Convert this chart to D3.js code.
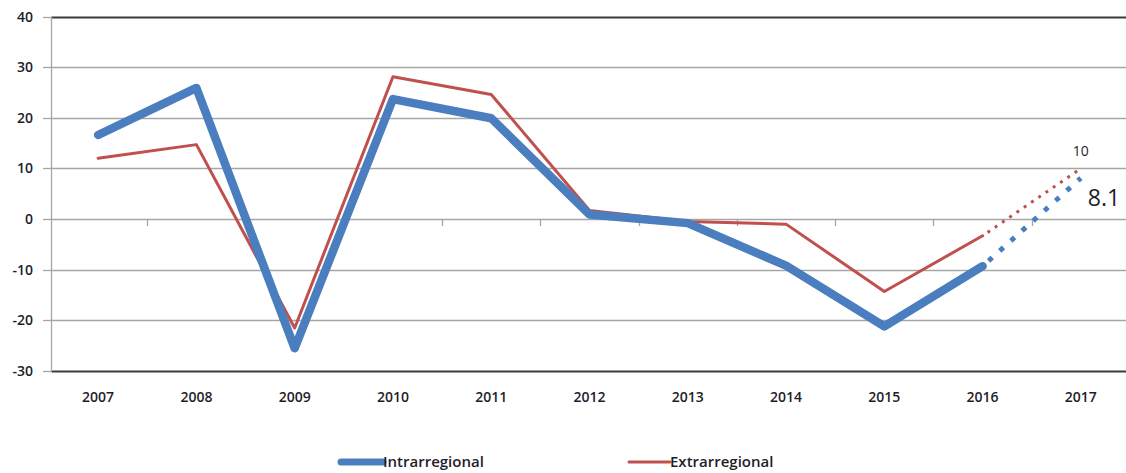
<!DOCTYPE html>
<html>
<head>
<meta charset="utf-8">
<script src="https://cdn.jsdelivr.net/npm/d3@7"></script>
<style>
  html, body { margin: 0; padding: 0; background: #fff; }
  svg { display: block; }
  text { font-family: "Open Sans", "Liberation Sans", sans-serif; fill: #1e1e2a; }
</style>
</head>
<body>
<svg id="chart" width="1126" height="473"></svg>
<script>
const years = ["2007","2008","2009","2010","2011","2012","2013","2014","2015","2016","2017"];
const intra = [16.6, 25.9, -25.5, 23.7, 19.9, 0.9, -0.8, -9.2, -21.2, -9.3, 8.1];
const extra = [12.0, 14.7, -21.5, 28.1, 24.6, 1.7, -0.5, -1.0, -14.3, -3.3, 10];
const yTicks = [40, 30, 20, 10, 0, -10, -20, -30];
const seriesNames = ["Intrarregional", "Extrarregional"];
const labelIntra = "8.1";
const labelExtra = "10";

const svg = d3.select("#chart");
const blue = "#4A7EBF", red = "#C0504D";

const x = d3.scaleBand().domain(years).range([49, 1130]).padding(0);
const y = d3.scaleLinear().domain([-30, 40]).range([371, 16.5]);
const cx = d => x(d) + x.bandwidth() / 2;

// gridlines
svg.append("g").selectAll("line").data(yTicks).join("line")
  .attr("x1", 51.5).attr("x2", 1126)
  .attr("y1", d => Math.round(y(d)) + 0.5).attr("y2", d => Math.round(y(d)) + 0.5)
  .attr("stroke", d => (d === 40 || d === -30) ? "#3a3a3a" : "#a6a6a6")
  .attr("stroke-width", d => (d === 40 || d === -30) ? 2 : 1.3);

// y axis line and ticks
svg.append("line").attr("x1", 51.5).attr("x2", 51.5).attr("y1", y(40)).attr("y2", y(-30))
  .attr("stroke", "#a6a6a6").attr("stroke-width", 1.3);
svg.append("g").selectAll("line").data(yTicks).join("line")
  .attr("x1", 43).attr("x2", 51.5)
  .attr("y1", d => Math.round(y(d)) + 0.5).attr("y2", d => Math.round(y(d)) + 0.5)
  .attr("stroke", "#a6a6a6").attr("stroke-width", 1.3);
svg.append("g").selectAll("text").data(yTicks).join("text")
  .attr("x", 33).attr("y", d => y(d)).attr("dy", "0.36em")
  .attr("text-anchor", "end").attr("font-size", 14).attr("font-weight", 600)
  .text(d => d);

// category tick marks along zero line
const boundaries = years.slice(1).map(d => x(d));
svg.append("g").selectAll("line").data(boundaries).join("line")
  .attr("x1", d => Math.round(d) + 0.5).attr("x2", d => Math.round(d) + 0.5)
  .attr("y1", y(0)).attr("y2", y(0) + 7)
  .attr("stroke", "#a6a6a6").attr("stroke-width", 1.3);

// category labels
svg.append("g").selectAll("text").data(years).join("text")
  .attr("x", d => cx(d)).attr("y", 401.5)
  .attr("text-anchor", "middle").attr("font-size", 14).attr("font-weight", 600)
  .text(d => d);

const line = d3.line().x(d => cx(d[0])).y(d => y(d[1]));
const pairs = arr => years.map((yr, i) => [yr, arr[i]]);
const intraPts = pairs(intra), extraPts = pairs(extra);
const n = years.length;

// extra (red) series
svg.append("path").attr("d", line(extraPts.slice(0, n - 1)))
  .attr("fill", "none").attr("stroke", red).attr("stroke-width", 3)
  .attr("stroke-linejoin", "round").attr("stroke-linecap", "round");
svg.append("path").attr("d", line(extraPts.slice(n - 2)))
  .attr("fill", "none").attr("stroke", red).attr("stroke-width", 3)
  .attr("stroke-dasharray", "3 5.8").attr("stroke-dashoffset", -6);

// intra (blue) series
svg.append("path").attr("d", line(intraPts.slice(0, n - 1)))
  .attr("fill", "none").attr("stroke", blue).attr("stroke-width", 8.5)
  .attr("stroke-linejoin", "round").attr("stroke-linecap", "round");
svg.append("path").attr("d", line(intraPts.slice(n - 2)))
  .attr("fill", "none").attr("stroke", blue).attr("stroke-width", 5)
  .attr("stroke-dasharray", "5 10").attr("stroke-dashoffset", -8);

// data labels
svg.append("text").attr("x", cx(years[n - 1])).attr("y", y(extra[n - 1]) - 17)
  .attr("dy", "0.36em").attr("text-anchor", "middle").attr("font-size", 14)
  .text(labelExtra);
svg.append("text").attr("x", cx(years[n - 1]) + 7).attr("y", y(intra[n - 1]) + 20)
  .attr("dy", "0.36em").attr("text-anchor", "start").attr("font-size", 23)
  .text(labelIntra);

// legend
const legend = svg.append("g");
legend.append("line").attr("x1", 341).attr("x2", 383).attr("y1", 462).attr("y2", 462)
  .attr("stroke", blue).attr("stroke-width", 7).attr("stroke-linecap", "round");
legend.append("text").attr("x", 383).attr("y", 462).attr("dy", "0.36em")
  .attr("font-size", 15).attr("font-weight", 600).text(seriesNames[0]);
legend.append("line").attr("x1", 629).attr("x2", 670).attr("y1", 462).attr("y2", 462)
  .attr("stroke", red).attr("stroke-width", 3).attr("stroke-linecap", "round");
legend.append("text").attr("x", 670).attr("y", 462).attr("dy", "0.36em")
  .attr("font-size", 15).attr("font-weight", 600).text(seriesNames[1]);
</script>
</body>
</html>
